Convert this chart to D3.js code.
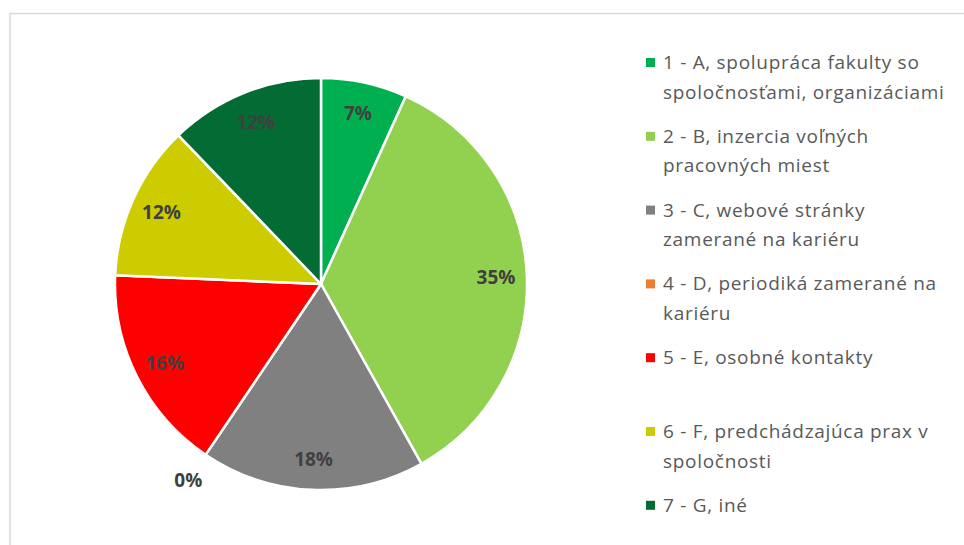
<!DOCTYPE html>
<html>
<head>
<meta charset="utf-8">
<script src="https://cdn.jsdelivr.net/npm/d3@7"></script>
<style>
  html, body { margin: 0; padding: 0; background: #fff; }
  svg { display: block; }
</style>
</head>
<body>
<svg id="chart" width="964" height="545"></svg>
<script>
// Response counts per category (share of 74 answers)
const categories = [
  "1 - A, spolupráca fakulty so spoločnosťami, organizáciami",
  "2 - B, inzercia voľných pracovných miest",
  "3 - C, webové stránky zamerané na kariéru",
  "4 - D, periodiká zamerané na kariéru",
  "5 - E, osobné kontakty",
  "6 - F, predchádzajúca prax v spoločnosti",
  "7 - G, iné"
];
// Legend text wrapped onto lines
const legendLines = [
  ["1 - A, spolupráca fakulty so", "spoločnosťami, organizáciami"],
  ["2 - B, inzercia voľných", "pracovných miest"],
  ["3 - C, webové stránky", "zamerané na kariéru"],
  ["4 - D, periodiká zamerané na", "kariéru"],
  ["5 - E, osobné kontakty"],
  ["6 - F, predchádzajúca prax v", "spoločnosti"],
  ["7 - G, iné"]
];
const counts = [5, 26, 13, 0, 12, 9, 9];
const colors = ["#00B050", "#92D050", "#808080", "#ED7D31", "#FF0000", "#CCCC00", "#036B34"];

const svg = d3.select("#chart");
const fontFamily = "'Open Sans', 'Noto Sans', sans-serif";

// chart area frame
svg.append("rect")
  .attr("x", 10).attr("y", 13.5)
  .attr("width", 1000).attr("height", 600)
  .attr("fill", "#fff")
  .attr("stroke", "#D9D9D9")
  .attr("stroke-width", 1.5);

const cx = 321, cy = 284, R = 206;
const total = d3.sum(counts);

const pie = d3.pie().sort(null).value(d => d)(counts);
const arc = d3.arc().innerRadius(0).outerRadius(R);

const g = svg.append("g").attr("transform", `translate(${cx},${cy})`);

g.selectAll("path.slice")
  .data(pie)
  .join("path")
  .attr("class", "slice")
  .attr("d", arc)
  .attr("fill", (d, i) => colors[i])
  .attr("stroke", "#fff")
  .attr("stroke-width", 2.5)
  .attr("stroke-linejoin", "round");

// percentage labels: inside near the rim, empty slices outside
const inside = d3.arc().innerRadius(R * 0.85).outerRadius(R * 0.85);
const outside = d3.arc().innerRadius(R * 1.15).outerRadius(R * 1.15);
const pct = d3.format(".0%");

g.selectAll("text.lbl")
  .data(pie)
  .join("text")
  .attr("class", "lbl")
  .attr("transform", d => `translate(${(d.value > 0 ? inside : outside).centroid(d)})`)
  .attr("text-anchor", "middle")
  .attr("dominant-baseline", "central")
  .attr("font-family", fontFamily)
  .attr("font-weight", "bold")
  .attr("font-size", 19)
  .attr("fill", "#404040")
  .text(d => pct(d.value / total));

// legend
const legendX = 646, firstBaseline = 69, itemStep = 73.8, lineStep = 29.5;
const legend = svg.append("g");
const items = legend.selectAll("g.item")
  .data(legendLines)
  .join("g")
  .attr("class", "item")
  .attr("transform", (d, i) => `translate(${legendX},${firstBaseline + i * itemStep})`);

items.append("rect")
  .attr("x", 0).attr("y", -11)
  .attr("width", 9).attr("height", 9)
  .attr("fill", (d, i) => colors[i]);

items.each(function(lines) {
  const t = d3.select(this).append("text")
    .attr("x", 17).attr("y", 0)
    .attr("font-family", fontFamily)
    .attr("font-size", 19)
    .attr("letter-spacing", 0.7)
    .attr("fill", "#595959");
  lines.forEach((ln, j) => {
    t.append("tspan").attr("x", 17).attr("y", j * lineStep).text(ln);
  });
});
</script>
</body>
</html>
